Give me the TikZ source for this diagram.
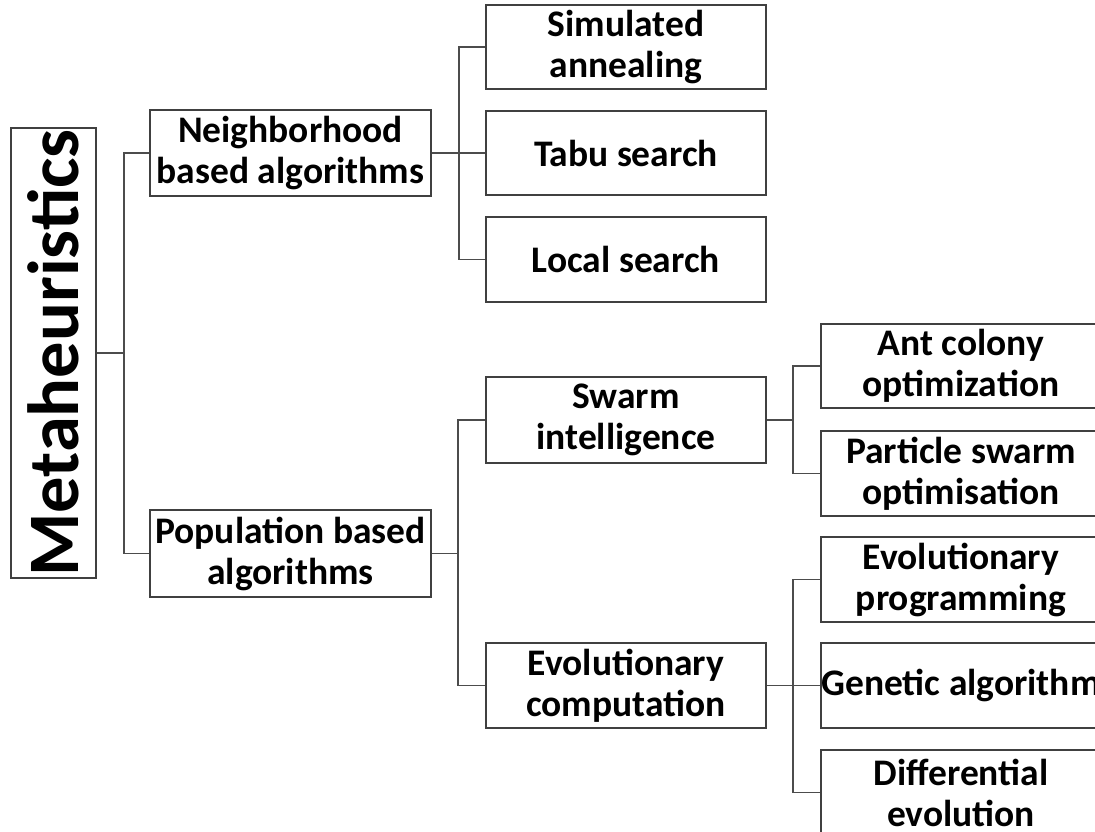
\documentclass[tikz,border=0pt]{standalone}
\usepackage{fontspec}
\setmainfont{Carlito}
\begin{document}
\begin{tikzpicture}[x=1pt,y=1pt,
  box/.style={draw=black!75,line width=1.3pt,rectangle,inner sep=0pt,align=center,
    minimum width=280pt,minimum height=85pt,font=\fontsize{37.5}{41}\selectfont\bfseries},
  conn/.style={draw=black!70,line width=1.1pt}]
\useasboundingbox (0,0) rectangle (1095,-831);
\begin{scope}
\clip (0,0) rectangle (1095,-831);
\node[box,rotate=90,minimum width=450pt,minimum height=85pt,font=\fontsize{72.5}{80}\selectfont\bfseries] (meta) at (53.5,-353) {Metaheuristics};
\node[box,minimum width=281pt,minimum height=86pt] (nb) at (290.5,-153) {Neighborhood\\based algorithms};
\node[box,minimum width=281pt,minimum height=87pt] (pb) at (290.5,-553.5) {Population based\\algorithms};
\node[box,minimum height=84pt] (sa) at (626,-47) {Simulated\\annealing};
\node[box,minimum height=84pt] (tabu) at (626,-153) {Tabu search};
\node[box] (ls) at (626,-259.5) {Local search};
\node[box,minimum height=86pt] (swarm) at (626,-420) {Swarm\\intelligence};
\node[box] (evo) at (626,-685.5) {Evolutionary\\computation};
\node[box,minimum height=84pt] (ant) at (961,-366) {Ant colony\\optimization};
\node[box] (pso) at (961,-473.5) {Particle swarm\\optimisation};
\node[box] (ep) at (961,-579.5) {Evolutionary\\programming};
\node[box] (ga) at (961,-685.5) {\makebox[0pt]{Genetic algorithm}};
\node[box] (de) at (961,-792.5) {Differential\\evolution};
\end{scope}
\coordinate (b0) at (124,-353);
\coordinate (b1) at (459,-153);
\coordinate (b2) at (458,-553.5);
\coordinate (b3) at (793,-420);
\coordinate (b4) at (793,-685.5);
\draw[conn] (meta.south) -- (b0);
\draw[conn] (b0) |- (nb.west);
\draw[conn] (b0) |- (pb.west);
\draw[conn] (nb.east) -- (b1);
\draw[conn] (b1) |- (sa.west);
\draw[conn] (b1) -- (tabu.west);
\draw[conn] (b1) |- (ls.west);
\draw[conn] (pb.east) -- (b2);
\draw[conn] (b2) |- (swarm.west);
\draw[conn] (b2) |- (evo.west);
\draw[conn] (swarm.east) -- (b3);
\draw[conn] (b3) |- (ant.west);
\draw[conn] (b3) |- (pso.west);
\draw[conn] (evo.east) -- (b4);
\draw[conn] (b4) |- (ep.west);
\draw[conn] (b4) -- (ga.west);
\draw[conn] (b4) |- (de.west);
\end{tikzpicture}
\end{document}
